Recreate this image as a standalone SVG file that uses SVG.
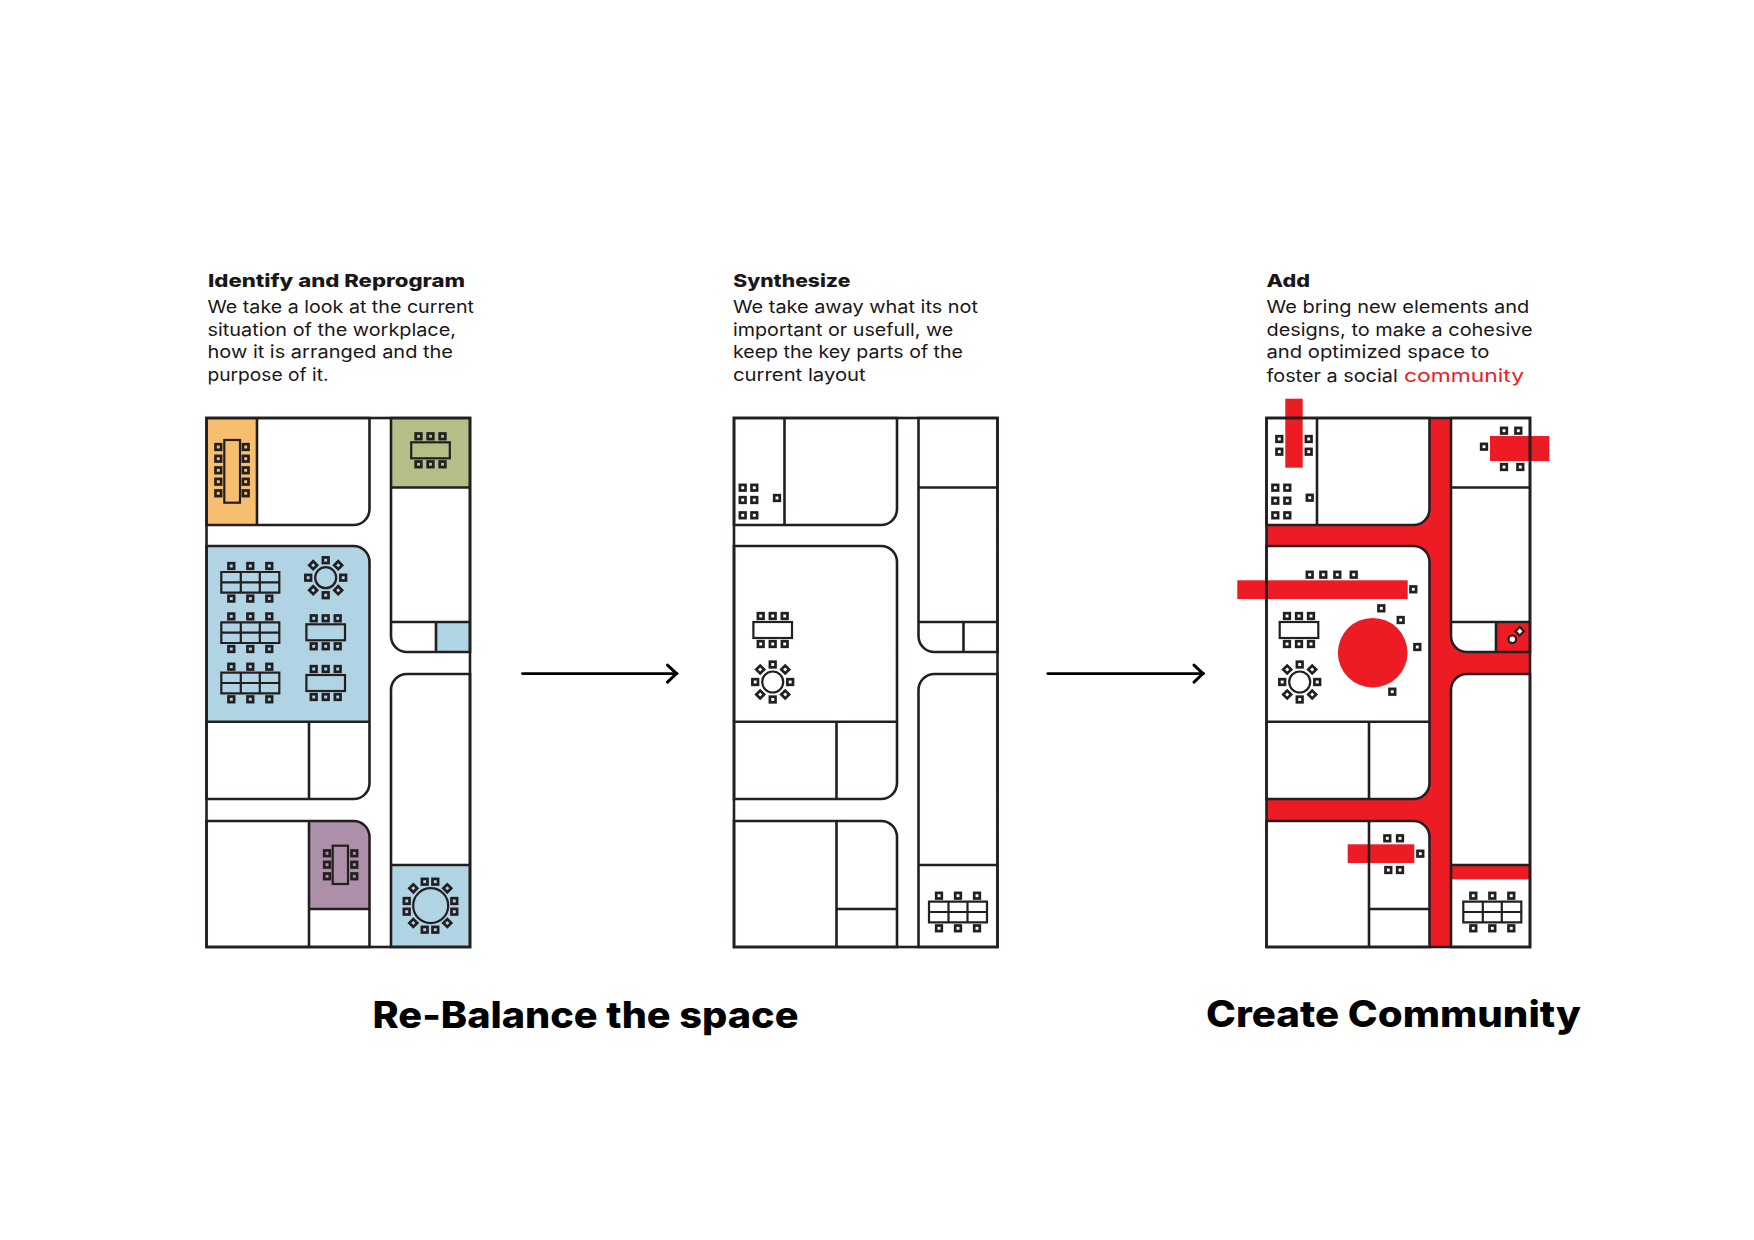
<svg xmlns="http://www.w3.org/2000/svg" xmlns:xlink="http://www.w3.org/1999/xlink" width="1754" height="1240" viewBox="0 0 1754 1240">
<style>
text{font-family:"Inter","Liberation Sans",sans-serif;fill:#1a1718}
.h{font-size:17.5px;font-weight:800}
.b{font-size:17.8px;font-weight:400}
.big{font-size:36.5px;font-weight:800;fill:#000}
.red{fill:#ED1C24}
.ln{fill:none;stroke:#231F20;stroke-width:2.6}
.fu{fill:none;stroke:#231F20;stroke-width:2.2}
.ch{fill:none;stroke:#231F20;stroke-width:2.7}
.rd{fill:#ED1C24}
.wf{fill:#fff}
.or{fill:#F6BE6E}.gr{fill:#B3BF86}.bl{fill:#B0D4E3}.pu{fill:#AE8FA9}
.arrow{fill:none;stroke:#000;stroke-width:2.8;stroke-linecap:round}
</style>
<defs>
<marker id="chev" markerUnits="userSpaceOnUse" markerWidth="14" markerHeight="22" refX="11" refY="10" orient="auto" overflow="visible">
<path d="M1.5 1.5L10.5 10L1.5 18.5" fill="none" stroke="#000" stroke-width="3" stroke-linecap="round" stroke-linejoin="miter"/>
</marker>
<path id="blockshapes" d="M206.5 418H369.5V509A16 16 0 0 1 353.5 525H206.5ZM206.5 546H353.5A16 16 0 0 1 369.5 562V783A16 16 0 0 1 353.5 799H206.5ZM206.5 821H353.5A16 16 0 0 1 369.5 837V947H206.5ZM391 418H470V652H407A16 16 0 0 1 391 636ZM391 690A16 16 0 0 1 407 674H470V947H391Z"/>
<g id="fills"><use href="#blockshapes" class="wf"/></g>
<g id="lines" class="ln">
<rect x="206.5" y="418" width="263.5" height="529"/>
<use href="#blockshapes"/>
<path d="M257 418V525M391 487.5H470M391 622H470M436 622V652M206.5 721.7H369.5M309 721.7V799M309 821V947M309 909H369.5M391 865H470"/>
</g>
<rect id="c" x="-2.8" y="-2.8" width="5.6" height="5.6" class="ch"/>
<rect id="d" x="-2.8" y="-2.8" width="5.6" height="5.6" class="ch" transform="rotate(45)"/>
<g id="t6">
<rect x="-19.3" y="-8" width="38.6" height="16" class="fu"/>
<use href="#c" x="-12" y="-14"/><use href="#c" x="0" y="-14"/><use href="#c" x="12" y="-14"/>
<use href="#c" x="-12" y="14"/><use href="#c" x="0" y="14"/><use href="#c" x="12" y="14"/>
</g>
<g id="r8">
<circle r="10.5" class="fu"/>
<use href="#c" x="0" y="-17.5"/><use href="#c" x="0" y="17.5"/><use href="#c" x="-17.5" y="0"/><use href="#c" x="17.5" y="0"/>
<use href="#d" x="-12.5" y="-12.5"/><use href="#d" x="12.5" y="-12.5"/><use href="#d" x="-12.5" y="12.5"/><use href="#d" x="12.5" y="12.5"/>
</g>
<g id="bn">
<path d="M-29-10.3H29V10.3H-29ZM-29 0H29M-9.5-10.3V10.3M9.5-10.3V10.3" class="fu"/>
<use href="#c" x="-19" y="-16.3"/><use href="#c" x="0" y="-16.3"/><use href="#c" x="19" y="-16.3"/>
<use href="#c" x="-19" y="16.3"/><use href="#c" x="0" y="16.3"/><use href="#c" x="19" y="16.3"/>
</g>
</defs>
<rect width="1754" height="1240" fill="#fff"/>

<g id="plan-1">
<use href="#fills"/>
<rect class="or" x="206.5" y="418" width="50.5" height="107"/>
<rect class="gr" x="391" y="418" width="79" height="69.5"/>
<path class="bl" d="M206.5 546H353.5A16 16 0 0 1 369.5 562V721.7H206.5Z"/>
<rect class="bl" x="436" y="622" width="34" height="30"/>
<path class="pu" d="M309 821H353.5A16 16 0 0 1 369.5 837V909H309Z"/>
<rect class="bl" x="391" y="865" width="79" height="82"/>
<use href="#lines"/>
<g id="furniture-1">
<rect x="224.3" y="440" width="15.7" height="62.7" class="fu"/>
<use href="#c" x="218.3" y="447"/><use href="#c" x="218.3" y="458.7"/><use href="#c" x="218.3" y="470.3"/><use href="#c" x="218.3" y="481.7"/><use href="#c" x="218.3" y="493.3"/>
<use href="#c" x="245.7" y="447"/><use href="#c" x="245.7" y="458.7"/><use href="#c" x="245.7" y="470.3"/><use href="#c" x="245.7" y="481.7"/><use href="#c" x="245.7" y="493.3"/>
<use href="#t6" x="430.5" y="450.3"/>
<use href="#bn" x="250.3" y="582.3"/><use href="#bn" x="250.3" y="632.7"/><use href="#bn" x="250.3" y="683"/>
<use href="#r8" x="325.7" y="577.7"/>
<use href="#t6" x="325.7" y="632.3"/><use href="#t6" x="325.7" y="683"/>
<rect x="332.7" y="845.7" width="15.3" height="38.3" class="fu"/>
<use href="#c" x="327" y="853.3"/><use href="#c" x="327" y="864.7"/><use href="#c" x="327" y="876.3"/>
<use href="#c" x="354.3" y="853.3"/><use href="#c" x="354.3" y="864.7"/><use href="#c" x="354.3" y="876.3"/>
<circle cx="430.7" cy="905.7" r="17.5" class="fu"/>
<use href="#c" x="424.7" y="881.7"/><use href="#c" x="435.3" y="881.7"/><use href="#c" x="424.7" y="929.7"/><use href="#c" x="435.3" y="929.7"/>
<use href="#c" x="406.7" y="901"/><use href="#c" x="406.7" y="911.7"/><use href="#c" x="454.3" y="901"/><use href="#c" x="454.3" y="911.7"/>
<use href="#d" x="413.3" y="888.3"/><use href="#d" x="447.3" y="888.3"/><use href="#d" x="413.3" y="923"/><use href="#d" x="447.3" y="923"/>
</g>
</g>

<g id="plan-2">
<use href="#fills" x="527.5"/>
<use href="#lines" x="527.5"/>
<g id="furniture-2">
<use href="#c" x="742.7" y="487.7"/><use href="#c" x="754.3" y="487.7"/><use href="#c" x="742.7" y="500"/><use href="#c" x="754.3" y="500"/><use href="#c" x="742.7" y="515.3"/><use href="#c" x="754.3" y="515.3"/><use href="#c" x="777" y="498"/>
<use href="#t6" x="772.7" y="630"/>
<use href="#r8" x="772.7" y="682"/>
<use href="#bn" x="958" y="912"/>
</g>
</g>

<g id="plan-3">
<rect class="rd" x="1266.5" y="418" width="263.5" height="529"/>
<use href="#fills" x="1060"/>
<rect class="rd" x="1285.3" y="398.7" width="17.4" height="69"/>
<rect class="rd" x="1490" y="436" width="59.3" height="25"/>
<rect class="rd" x="1237.3" y="580.3" width="170.4" height="18.7"/>
<circle class="rd" cx="1372.7" cy="652.7" r="34.8"/>
<rect class="rd" x="1496" y="622" width="34" height="30"/>
<rect class="rd" x="1347.7" y="844.3" width="66.6" height="18.7"/>
<rect class="rd" x="1451" y="865" width="79" height="14.3"/>
<use href="#lines" x="1060"/>
<g id="furniture-3">
<use href="#c" x="1279.3" y="439"/><use href="#c" x="1308.7" y="439"/><use href="#c" x="1279.3" y="451.7"/><use href="#c" x="1308.7" y="451.7"/>
<use href="#c" x="1275.3" y="487.7"/><use href="#c" x="1287.3" y="487.7"/><use href="#c" x="1275.3" y="500.7"/><use href="#c" x="1287.3" y="500.7"/><use href="#c" x="1275.3" y="515.3"/><use href="#c" x="1287.3" y="515.3"/><use href="#c" x="1309.7" y="497.7"/>
<use href="#c" x="1504" y="430.7"/><use href="#c" x="1518.3" y="430.7"/><use href="#c" x="1484" y="446.7"/><use href="#c" x="1504" y="467"/><use href="#c" x="1520.3" y="467"/>
<use href="#c" x="1309.7" y="574.7"/><use href="#c" x="1323.3" y="574.7"/><use href="#c" x="1337.3" y="574.7"/><use href="#c" x="1353.7" y="574.7"/><use href="#c" x="1413.3" y="589.3"/>
<use href="#c" x="1381.3" y="608.3"/><use href="#c" x="1400.7" y="620"/><use href="#c" x="1417.3" y="647"/><use href="#c" x="1392.3" y="691.7"/>
<use href="#t6" x="1299" y="630"/>
<use href="#r8" x="1299.7" y="682"/>
<use href="#c" x="1387.3" y="838.3"/><use href="#c" x="1400" y="838.3"/><use href="#c" x="1420.3" y="853.7"/><use href="#c" x="1388.3" y="870"/><use href="#c" x="1400" y="870"/>
<use href="#bn" x="1492.3" y="912"/>
<circle cx="1512.3" cy="639.3" r="3.8" fill="#fff" stroke="#231F20" stroke-width="2.2"/>
<rect x="-3" y="-3" width="6" height="6" fill="#fff" stroke="#231F20" stroke-width="2.2" transform="translate(1519.7 631.3) rotate(45)"/>
</g>
</g>

<g id="connectors">
<path class="arrow" d="M522.5 673.6H677" marker-end="url(#chev)"/>
<path class="arrow" d="M1047.8 673.6H1203.5" marker-end="url(#chev)"/>
</g>

<g id="text-1">
<text class="h" x="208" y="286.7" textLength="257" lengthAdjust="spacingAndGlyphs">Identify and Reprogram</text>
<text class="b" x="207.5" y="313" textLength="266.5" lengthAdjust="spacingAndGlyphs">We take a look at the current</text>
<text class="b" x="207.5" y="336" textLength="248.5" lengthAdjust="spacingAndGlyphs">situation of the workplace,</text>
<text class="b" x="207.5" y="358.3" textLength="245.5" lengthAdjust="spacingAndGlyphs">how it is arranged and the</text>
<text class="b" x="207.5" y="381" textLength="121" lengthAdjust="spacingAndGlyphs">purpose of it.</text>
</g>
<g id="text-2">
<text class="h" x="733.3" y="286.7" textLength="117" lengthAdjust="spacingAndGlyphs">Synthesize</text>
<text class="b" x="733" y="313" textLength="245" lengthAdjust="spacingAndGlyphs">We take away what its not</text>
<text class="b" x="733" y="335.5" textLength="220.3" lengthAdjust="spacingAndGlyphs">important or usefull, we</text>
<text class="b" x="733" y="358" textLength="230" lengthAdjust="spacingAndGlyphs">keep the key parts of the</text>
<text class="b" x="733" y="380.5" textLength="132.7" lengthAdjust="spacingAndGlyphs">current layout</text>
</g>
<g id="text-3">
<text class="h" x="1266.5" y="286.7" textLength="43.5" lengthAdjust="spacingAndGlyphs">Add</text>
<text class="b" x="1266.5" y="313" textLength="262.8" lengthAdjust="spacingAndGlyphs">We bring new elements and</text>
<text class="b" x="1266.5" y="335.5" textLength="266.2" lengthAdjust="spacingAndGlyphs">designs, to make a cohesive</text>
<text class="b" x="1266.5" y="358" textLength="222.8" lengthAdjust="spacingAndGlyphs">and optimized space to</text>
<text class="b" x="1266.5" y="381.8" textLength="131.2" lengthAdjust="spacingAndGlyphs">foster a social</text>
<text class="b red" x="1404" y="381.8" textLength="120" lengthAdjust="spacingAndGlyphs">community</text>
</g>
<text id="title-1" class="big" x="372.5" y="1027.7" textLength="426" lengthAdjust="spacingAndGlyphs">Re-Balance the space</text>
<text id="title-2" class="big" x="1206" y="1026.7" textLength="375" lengthAdjust="spacingAndGlyphs">Create Community</text>
</svg>
